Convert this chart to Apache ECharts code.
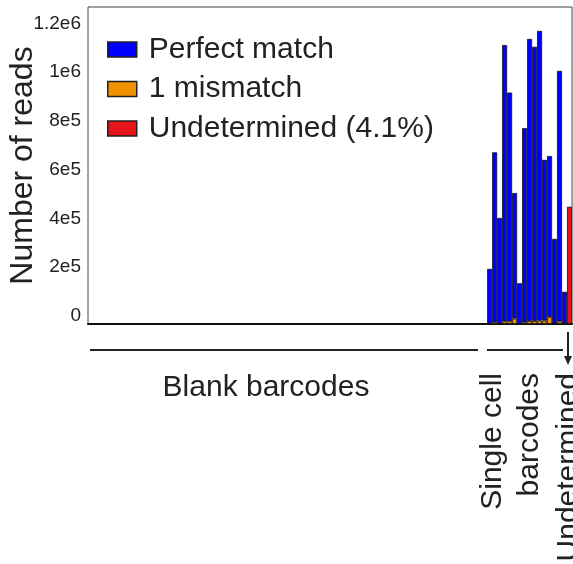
<!DOCTYPE html>
<html>
<head>
<meta charset="utf-8">
<script src="https://cdn.jsdelivr.net/npm/echarts@6/dist/echarts.min.js"></script>
<style>
html,body{margin:0;padding:0;background:#fff;}
#chart{width:573px;height:564px;}
</style>
</head>
<body>
<div id="chart"></div>
<script>
// ---- data ----
var blankCount = 80;      // blank barcodes (no reads visible)
var cellCount = 16;       // single cell barcodes
var blankValues = [0,0,0,0,0,0,0,0,0,0,0,0,0,0,0,0,0,0,0,0,
                   0,0,0,0,0,0,0,0,0,0,0,0,0,0,0,0,0,0,0,0,
                   0,0,0,0,0,0,0,0,0,0,0,0,0,0,0,0,0,0,0,0,
                   0,0,0,0,0,0,0,0,0,0,0,0,0,0,0,0,0,0,0,0];
var perfectMatch = [224000, 697000, 432000, 1133000, 938000, 515000, 166000, 796000,
                    1157000, 1125000, 1188000, 659000, 660000, 347000, 1027000, 130000];
var oneMismatch  = [2000, 7000, 3000, 11000, 11000, 22000, 1000, 7000,
                    12000, 12000, 14000, 14000, 29000, 2000, 11000, 2000];
var undetermined = 481000;
var yTickValues = [0, 200000, 400000, 600000, 800000, 1000000, 1200000];
var yTickLabels = ['0', '2e5', '4e5', '6e5', '8e5', '1e6', '1.2e6'];
var seriesNames = ['Perfect match', '1 mismatch', 'Undetermined (4.1%)'];

// ---- build categories / series ----
var categories = [];
for (var i = 0; i < blankCount; i++) categories.push('Blank ' + (i + 1));
for (var j = 0; j < cellCount; j++) categories.push('Cell ' + (j + 1));
categories.push('Undetermined');

var blueData = blankValues.concat(perfectMatch).concat(['-']);
var orangeData = blankValues.concat(oneMismatch).concat(['-']);
var redData = [];
for (var k = 0; k < categories.length - 1; k++) redData.push('-');
redData.push(undetermined);

var FONT = '"Liberation Sans", Arial, Helvetica, sans-serif';
var barBorder = {borderColor: '#111', borderWidth: 0.8};

var chart = echarts.init(document.getElementById('chart'), null, {renderer: 'canvas'});
chart.setOption({
  animation: false,
  backgroundColor: '#fff',
  textStyle: {fontFamily: FONT},
  grid: {left: 88, right: 1, top: 7, bottom: 240, show: true, borderColor: '#444', borderWidth: 1,
         containLabel: false, outerBoundsMode: 'none'},
  legend: {
    data: seriesNames,
    orient: 'vertical',
    left: 102, top: 29,
    icon: 'rect',
    itemWidth: 29, itemHeight: 15,
    itemGap: 8.5, itemTextGap: 11,
    textStyle: {fontFamily: FONT, fontSize: 30, color: '#222', lineHeight: 31, padding: [0, 0, 0, 7]},
    itemStyle: {borderColor: '#222', borderWidth: 1.5}
  },
  xAxis: {
    type: 'category',
    data: categories,
    axisLine: {show: true, lineStyle: {color: '#111', width: 2}},
    axisTick: {show: false},
    axisLabel: {show: false},
    splitLine: {show: false}
  },
  yAxis: {
    type: 'value',
    min: 0, max: 1300000, interval: 200000,
    name: 'Number of reads',
    nameLocation: 'middle',
    nameRotate: 90,
    nameGap: 49,
    nameMoveOverlap: false,
    nameTextStyle: {fontFamily: FONT, fontSize: 32, color: '#222'},
    axisLine: {show: false},
    axisTick: {show: false},
    splitLine: {show: false},
    axisLabel: {
      margin: 7,
      fontFamily: FONT, fontSize: 19, color: '#222',
      verticalAlign: 'bottom', lineHeight: 16,
      formatter: function (v) {
        var idx = yTickValues.indexOf(v);
        return idx >= 0 ? yTickLabels[idx] : '';
      }
    }
  },
  series: [
    {name: '1 mismatch', type: 'bar', stack: 'reads', data: orangeData,
     barCategoryGap: '0%', itemStyle: Object.assign({color: '#F39200'}, barBorder)},
    {name: 'Perfect match', type: 'bar', stack: 'reads', data: blueData,
     barCategoryGap: '0%', itemStyle: Object.assign({color: '#0000FF'}, barBorder)},
    {name: 'Undetermined (4.1%)', type: 'bar', stack: 'reads', data: redData,
     barCategoryGap: '0%', itemStyle: Object.assign({color: '#E8141C'}, barBorder)}
  ],
  graphic: [
    {type: 'line', shape: {x1: 90, y1: 350, x2: 478, y2: 350}, style: {stroke: '#222', lineWidth: 2}},
    {type: 'line', shape: {x1: 487, y1: 350, x2: 563, y2: 350}, style: {stroke: '#222', lineWidth: 2}},
    {type: 'line', shape: {x1: 568, y1: 332, x2: 568, y2: 358}, style: {stroke: '#222', lineWidth: 2}},
    {type: 'polygon', shape: {points: [[564, 356], [572, 356], [568, 365]]}, style: {fill: '#222'}},
    {type: 'text', x: 266, y: 388, style: {text: 'Blank barcodes', font: '30px ' + FONT, fill: '#222', textAlign: 'center', textVerticalAlign: 'middle'}},
    {type: 'text', x: 493, y: 373, rotation: Math.PI / 2, style: {text: 'Single cell', font: '30px ' + FONT, fill: '#222', textAlign: 'right', textVerticalAlign: 'middle'}},
    {type: 'text', x: 530, y: 373, rotation: Math.PI / 2, style: {text: 'barcodes', font: '30px ' + FONT, fill: '#222', textAlign: 'right', textVerticalAlign: 'middle'}},
    {type: 'text', x: 569, y: 373, rotation: Math.PI / 2, style: {text: 'Undetermined', font: '30px ' + FONT, fill: '#222', textAlign: 'right', textVerticalAlign: 'middle'}}
  ]
});
</script>
</body>
</html>
